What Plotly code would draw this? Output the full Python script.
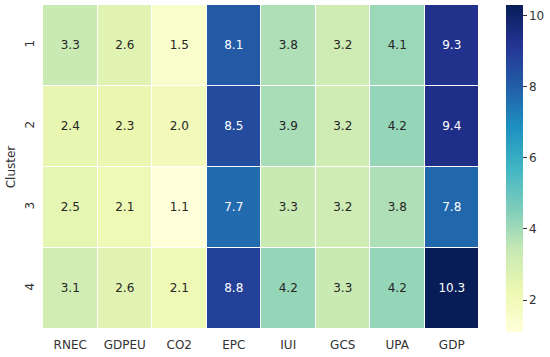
import plotly.graph_objects as go

features = ["RNEC", "GDPEU", "CO2", "EPC", "IUI", "GCS", "UPA", "GDP"]
clusters = ["1", "2", "3", "4"]
cluster1 = [3.3, 2.6, 1.5, 8.1, 3.8, 3.2, 4.1, 9.3]
cluster2 = [2.4, 2.3, 2.0, 8.5, 3.9, 3.2, 4.2, 9.4]
cluster3 = [2.5, 2.1, 1.1, 7.7, 3.3, 3.2, 3.8, 7.8]
cluster4 = [3.1, 2.6, 2.1, 8.8, 4.2, 3.3, 4.2, 10.3]
z = [cluster1, cluster2, cluster3, cluster4]
cbar_ticks = [2, 4, 6, 8, 10]

font = "DejaVu Sans"
zmin = min(min(r) for r in z)
zmax = max(max(r) for r in z)

fig = go.Figure()
fig.add_trace(go.Heatmap(
    z=z, x=features, y=clusters, colorscale="YlGnBu", zmin=zmin, zmax=zmax,
    xgap=1, ygap=1, hoverinfo="skip",
    colorbar=dict(thickness=17, len=327, lenmode="pixels", x=1.0615, xanchor="left",
                  y=1, yanchor="top", ypad=0, xpad=0, outlinewidth=0, tickvals=cbar_ticks,
                  ticks="outside", ticklen=4, tickcolor="#333",
                  tickfont=dict(family=font, size=12, color="#333")),
))

tx, ty, tt, tc = [], [], [], []
for ci, row in zip(clusters, z):
    for f, v in zip(features, row):
        tx.append(f); ty.append(ci); tt.append(f"{v:.1f}")
        frac = (v - zmin) / (zmax - zmin)
        tc.append("white" if frac > 0.6 else "#262626")
fig.add_trace(go.Scatter(x=tx, y=ty, mode="text", text=tt,
                         textfont=dict(family=font, size=12, color=tc),
                         hoverinfo="skip", showlegend=False))

fig.update_layout(
    width=550, height=357, margin=dict(l=43, r=68, t=5, b=25),
    paper_bgcolor="white", plot_bgcolor="white",
    font=dict(family=font, size=12, color="#333"),
    xaxis=dict(type="category", showgrid=False, zeroline=False, ticks="",
               tickfont=dict(size=12, color="#333"), ticklabelstandoff=7),
    yaxis=dict(type="category", autorange="reversed", showgrid=False, zeroline=False,
               ticks="", tickangle=-90, tickfont=dict(size=12, color="#333"),
               ticklabelstandoff=6,
               title=dict(text="Cluster", font=dict(size=12, color="#333"), standoff=4)),
)
fig.write_html("out.html", config={"displayModeBar": False},
               post_script="document.body.style.margin='0';")
